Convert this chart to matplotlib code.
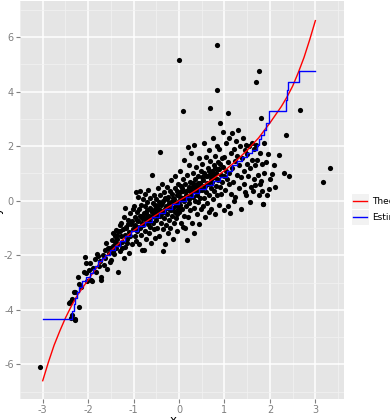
import numpy as np
import matplotlib
matplotlib.use("Agg")
import matplotlib.pyplot as plt
from matplotlib.lines import Line2D
from matplotlib.patches import Rectangle

# scatter points
pts_left = [(-3.05,-6.08),(-2.43,-3.76),(-2.39,-3.73),(-2.36,-3.61),(-2.38,-4.31),(-2.35,-4.19),
            (-2.30,-4.33),(-2.28,-4.38),(-2.32,-3.33),(-2.28,-3.35),(-2.23,-2.78),(-2.20,-3.88),
            (-2.21,-3.05),(-2.15,-3.16),(-2.10,-2.6),(-2.07,-2.08),(-2.05,-2.29),(-2.04,-2.65),
            (-2.02,-2.95),(-1.93,-2.90)]
pts_a = [(-1.98,-2.55),(-1.95,-2.3),(-1.91,-2.94),(-1.89,-2.47),(-1.86,-2.15),(-1.83,-2.62),
         (-1.80,-1.95),(-1.78,-2.04),(-1.76,-2.4),(-1.73,-2.2),(-1.71,-2.78),(-1.71,-2.9),
         (-1.68,-1.98),(-1.66,-2.35),(-1.64,-1.80),(-1.62,-2.1),(-1.60,-1.55),(-1.58,-2.5),
         (-1.55,-1.9),(-1.53,-1.74),(-1.52,-2.25)]
pts_b = [(-1.49,-2.17),(-1.48,-1.45),(-1.46,-1.2),(-1.45,-1.65),(-1.43,-1.95),(-1.42,-1.31),
         (-1.40,-1.5),(-1.39,-1.06),(-1.38,-1.75),(-1.36,-1.4),(-1.35,-2.6),(-1.34,-1.1),
         (-1.33,-1.6),(-1.31,-0.9),(-1.30,-1.85),(-1.28,-0.82),(-1.27,-1.3),(-1.25,-1.5),
         (-1.24,-1.05),(-1.22,-2.1),(-1.21,-0.58),(-1.20,-1.25),(-1.19,-0.27),(-1.18,-1.7),
         (-1.16,-0.95),(-1.15,-1.4),(-1.14,-1.55),(-1.12,-0.7),(-1.11,-1.15),(-1.10,-1.92),
         (-1.08,-0.45),(-1.07,-1.3),(-1.05,-0.85),(-1.04,-1.6),(-1.02,-1.05),(-1.01,-0.3)]
pts_c = [(-0.99,-0.2),(-0.98,-1.3),(-0.97,-0.6),(-0.96,-0.95),(-0.95,-1.49),(-0.94,0.3),
         (-0.93,-0.4),(-0.92,-1.1),(-0.91,0.15),(-0.90,-0.75),(-0.89,-1.6),(-0.88,-0.3),
         (-0.87,-0.55),(-0.86,-1.0),(-0.85,0.35),(-0.84,-0.15),(-0.83,-1.25),(-0.82,-0.65),
         (-0.81,-1.82),(-0.80,0.05),(-0.79,-0.9),(-0.78,-1.8),(-0.77,-0.45),(-0.76,-0.2),
         (-0.75,-1.1),(-0.74,0.25),(-0.73,-0.7),(-0.72,-1.4),(-0.71,-0.35),(-0.70,-0.05),
         (-0.69,-0.85),(-0.68,0.4),(-0.67,-0.55),(-0.66,-1.2),(-0.65,-0.25),(-0.64,0.1),
         (-0.63,-0.95),(-0.62,-0.6),(-0.61,-1.55),(-0.60,0.93),(-0.59,-0.4),(-0.58,-0.1),
         (-0.57,-0.8),(-0.56,0.2),(-0.55,-1.05),(-0.54,-0.5),(-0.53,-0.3),(-0.52,-1.35),
         (-0.51,0.05),(-0.50,-0.7)]
pts_d = [(-0.49,-0.2),(-0.48,-1.0),(-0.47,0.45),(-0.46,-0.55),(-0.45,-0.05),(-0.44,-1.3),
         (-0.43,-0.35),(-0.42,1.77),(-0.41,0.2),(-0.40,-0.8),(-0.39,-0.15),(-0.38,0.6),
         (-0.37,-0.45),(-0.36,-1.05),(-0.35,0.0),(-0.34,-0.65),(-0.33,0.3),(-0.32,-0.3),
         (-0.31,-1.6),(-0.30,0.1),(-0.29,-0.9),(-0.28,-0.2),(-0.27,0.5),(-0.26,-0.5),
         (-0.25,-1.2),(-0.24,0.15),(-0.23,-0.1),(-0.22,-0.7),(-0.21,0.35),(-0.20,-0.35),
         (-0.19,-1.0),(-0.18,0.75),(-0.17,-0.05),(-0.16,-0.55),(-0.15,0.25),(-0.14,-1.4),
         (-0.13,-0.25),(-0.12,0.05),(-0.11,-0.8),(-0.10,0.45),(-0.09,-0.4),(-0.08,0.9),
         (-0.07,-0.15),(-0.06,-0.65),(-0.05,0.2),(-0.04,-1.1),(-0.03,-0.3),(-0.02,0.6),
         (-0.01,0.0),(-0.05,-0.5),(-0.36,-1.85)]
pts_e = [(0.00,-0.4),(0.01,0.3),(0.02,1.1),(0.03,-0.15),(0.04,0.55),(0.05,-0.8),(0.06,0.1),
         (0.07,-0.3),(0.08,0.8),(0.09,0.35),(0.10,-0.55),(0.11,1.5),(0.12,0.0),(0.13,0.6),
         (0.14,-1.0),(0.15,0.2),(0.16,-0.2),(0.17,-1.44),(0.18,0.95),(0.19,0.4),(0.20,-0.6),
         (0.21,0.05),(0.22,1.3),(0.23,-0.1),(0.24,0.7),(0.25,-0.35),(0.26,0.25),(0.27,1.75),
         (0.28,-0.8),(0.29,0.5),(0.30,0.15),(0.31,1.0),(0.32,-0.25),(0.33,0.35),(0.34,-1.2),
         (0.35,0.8),(0.36,0.0),(0.37,0.55),(0.38,1.25),(0.39,-0.5),(0.40,0.3),(0.41,-0.05),
         (0.42,0.9),(0.43,0.45),(0.44,-0.87),(0.45,1.55),(0.46,0.1),(0.47,0.65),(0.48,-0.3),
         (0.49,1.1),(0.08,-0.95),(0.33,2.05),(0.19,1.95)]
pts_f = [(0.50,0.4),(0.51,1.35),(0.52,-0.2),(0.53,0.75),(0.54,2.1),(0.55,0.1),(0.56,1.0),
         (0.57,0.55),(0.58,-0.6),(0.59,1.6),(0.60,0.3),(0.61,0.9),(0.62,-0.1),(0.63,1.2),
         (0.64,0.6),(0.65,-0.43),(0.66,1.85),(0.67,0.2),(0.68,0.95),(0.69,1.45),(0.70,0.45),
         (0.71,-0.3),(0.72,1.1),(0.73,0.7),(0.74,2.3),(0.75,0.05),(0.76,1.3),(0.77,0.85),
         (0.78,0.35),(0.79,1.65),(0.80,-0.5),(0.81,1.0),(0.82,0.55),(0.83,2.0),(0.84,0.2),
         (0.85,1.4),(0.86,0.75),(0.87,1.9),(0.88,-0.15),(0.89,1.15),(0.90,0.5),(0.91,2.85),
         (0.92,0.95),(0.93,0.25),(0.94,1.55),(0.95,0.7),(0.96,2.53),(0.97,1.25),(0.98,-0.35),
         (0.99,0.9),(0.84,4.05),(0.83,5.72),(0.68,3.40)]
pts_g = [(1.00,1.6),(1.02,0.4),(1.03,1.1),(1.04,2.1),(1.05,0.8),(1.07,-0.2),(1.08,1.4),
         (1.08,3.20),(1.09,0.6),(1.10,2.28),(1.11,1.0),(1.13,-0.45),(1.14,1.75),(1.15,0.25),
         (1.16,2.48),(1.17,1.2),(1.19,0.7),(1.20,1.9),(1.22,0.0),(1.23,1.45),(1.24,0.12),
         (1.25,2.2),(1.27,0.95),(1.28,1.65),(1.30,2.59),(1.31,0.45),(1.33,1.3),(1.34,2.0),
         (1.36,-0.3),(1.37,0.85),(1.39,1.55),(1.40,2.3),(1.42,0.6),(1.43,1.1),(1.45,1.85),
         (1.46,0.3),(1.47,2.05),(1.48,0.19),(1.49,1.35)]
pts_h = [(1.50,1.7),(1.52,0.9),(1.54,2.0),(1.56,-0.06),(1.57,1.2),(1.58,0.5),(1.60,2.12),
         (1.61,1.5),(1.62,0.36),(1.64,1.9),(1.65,0.8),(1.67,0.58),(1.68,1.3),(1.69,4.35),
         (1.70,2.05),(1.72,1.48),(1.73,0.95),(1.75,0.2),(1.77,4.76),(1.78,1.75),(1.79,0.6),
         (1.81,0.71),(1.81,3.02),(1.83,1.35),(1.83,0.37),(1.84,-0.11),(1.85,-0.12),(1.87,2.12),
         (1.88,1.0),(1.91,1.43),(1.93,0.2),(1.96,1.7),(1.99,0.44)]
pts_right = [(2.00,0.81),(2.04,0.97),(2.08,1.3),(2.12,0.5),(2.19,1.69),(2.32,1.00),(2.35,2.41),
             (2.42,0.89),(2.67,3.34),(3.17,0.69),(3.32,1.19),(0.00,5.17),(0.09,3.28)]
pts_core = [(-1.17,-1.0),(-1.03,-0.75),(-0.965,-0.9),(-0.93,-0.7),(-0.885,-0.95),(-0.845,-0.55),
            (-0.805,-0.8),(-0.765,-0.65),(-0.735,-0.45),(-0.695,-0.6),(-0.655,-0.75),(-0.615,-0.35),
            (-0.575,-0.55),(-0.535,-0.15),(-0.495,-0.45),(-0.455,-0.3),(-0.415,-0.55),(-0.375,-0.1),
            (-0.335,-0.4),(-0.295,-0.25),(-0.255,0.05),(-0.215,-0.15),(-0.175,-0.35),(-0.135,0.1),
            (-0.095,-0.1),(-0.055,0.35),(-0.015,-0.2),(0.025,0.15),(0.065,0.45),(0.105,0.1),
            (0.145,0.35),(0.185,0.15),(0.225,0.5),(0.265,0.35),(0.305,0.65),(0.345,0.5),
            (0.385,0.2),(0.425,0.65),(0.465,0.4),(0.505,0.85),(0.545,0.55),(0.585,0.9),
            (0.625,0.65),(0.665,1.1),(0.705,0.8),(0.745,1.0),(0.785,1.2),(0.825,0.8),
            (0.865,1.15),(0.905,1.35),(-1.37,-1.25),(-1.29,-1.1),(-1.13,-0.85),(-1.57,-1.75),
            (-1.46,-1.85),(-1.26,-1.75)]

# theoretical curve
theo_x = [-3.0,-2.875,-2.75,-2.625,-2.5,-2.375,-2.25,-2.0,-1.75,-1.5,-1.25,-1.0,-0.75,-0.5,
          -0.25,0.0,0.25,0.5,0.75,1.0,1.25,1.5,1.75,2.0,2.25,2.375,2.5,2.625,2.75,2.875,3.0]
theo_y = [-6.6,-5.92,-5.3,-4.78,-4.3,-3.88,-3.5,-2.9,-2.3,-1.85,-1.45,-1.1,-0.8,-0.52,
          -0.25,0.0,0.25,0.52,0.8,1.1,1.45,1.85,2.3,2.85,3.45,3.8,4.2,4.7,5.25,5.9,6.6]

# estimate (step function)
est_x = [-3.0,-2.36,-2.31,-2.28,-2.24,-2.20,-2.13,-2.05,-1.96,-1.90,-1.86,-1.78,-1.70,-1.64,
         -1.53,-1.42,-1.31,-1.20,-1.05,-0.90,-0.75,-0.60,-0.45,-0.30,-0.15,0.0,0.15,0.30,
         0.45,0.60,0.75,0.90,1.05,1.17,1.28,1.38,1.50,1.60,1.71,1.76,1.81,1.86,1.91,1.99,
         2.35,2.38,2.40,2.65,3.0]
est_y = [-4.33,-4.05,-3.8,-3.55,-3.35,-3.15,-2.96,-2.8,-2.65,-2.5,-2.38,-2.22,-2.1,-1.98,
         -1.79,-1.67,-1.49,-1.3,-1.12,-0.93,-0.78,-0.6,-0.45,-0.3,-0.13,0.0,0.13,0.27,
         0.42,0.57,0.72,0.88,1.08,1.3,1.45,1.6,1.75,1.87,2.05,2.25,2.42,2.6,2.85,3.28,
         3.7,4.07,4.35,4.77,4.77]

x_ticks = [-3, -2, -1, 0, 1, 2, 3]
y_ticks = [-6, -4, -2, 0, 2, 4, 6]

pts = np.array(pts_left + pts_a + pts_b + pts_c + pts_d + pts_e + pts_f + pts_g + pts_h
               + pts_right + pts_core)

fig = plt.figure(figsize=(3.9, 4.2), dpi=100)
ax = fig.add_axes([20/390, 21/420, 324/390, 398/420])
ax.set_facecolor("#E5E5E5")
ax.set_xlim(-3.37, 3.63)
ax.set_ylim(-7.27, 7.32)
ax.set_xticks(x_ticks)
ax.set_yticks(y_ticks)
ax.set_xticks(np.arange(-3.5, 4, 1), minor=True)
ax.set_yticks(np.arange(-7, 8, 2), minor=True)
ax.grid(which="major", color="white", lw=1.1)
ax.grid(which="minor", color="#F2F2F2", lw=0.5)
ax.set_axisbelow(True)
for s in ax.spines.values():
    s.set_visible(False)
ax.tick_params(which="major", length=3, color="#7F7F7F", labelcolor="#7F7F7F", labelsize=7, pad=1.5)
ax.tick_params(which="minor", length=0)
ax.set_xticklabels([str(t) for t in x_ticks])
ax.set_yticklabels([str(t) for t in y_ticks])

ax.scatter(pts[:, 0], pts[:, 1], s=14, color="black", lw=0, zorder=2)
ax.plot(theo_x, theo_y, color="red", lw=1.0, zorder=3)
ax.plot(est_x, est_y, color="blue", lw=1.0, drawstyle="steps-post", zorder=3)

fig.text(173/390, 1 - 421/420, "x", ha="center", va="center", fontsize=8.5)
fig.text(-3/390, 0.5, "y", ha="center", va="center", rotation=90, fontsize=8.5)

# legend drawn by hand (clipped at right edge like the original)
for i, (lab, col) in enumerate([("Theoretical", "red"), ("Estimate", "blue")]):
    yc = 1 - (201 + 16*i)/420
    fig.patches.append(Rectangle((351/390, yc - 8/420), 18/390, 16/420, transform=fig.transFigure,
                                 facecolor="#F2F2F2", edgecolor="white", lw=0.8))
    fig.lines.append(Line2D([353/390, 367/390], [yc, yc], transform=fig.transFigure, color=col, lw=1.0))
    fig.text(372/390, yc, lab, va="center", ha="left", fontsize=6.5)

fig.savefig("out.png", dpi=100)
